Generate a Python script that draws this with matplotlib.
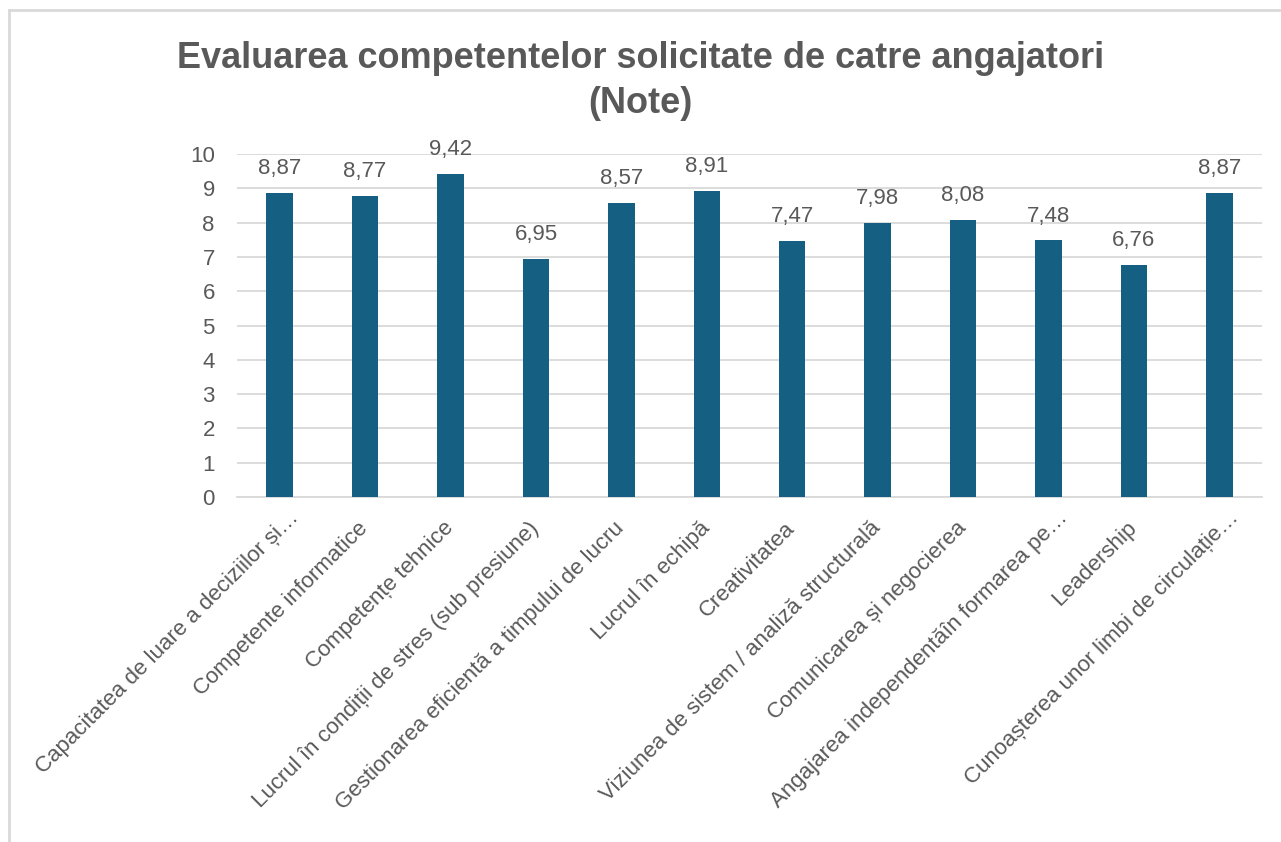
"""Bar chart: Evaluarea competentelor solicitate de catre angajatori."""

import matplotlib.pyplot as plt
from matplotlib.lines import Line2D
from matplotlib.transforms import ScaledTranslation

categories = [
    "Capacitatea de luare a deciziilor și…",
    "Competente informatice",
    "Competențe tehnice",
    "Lucrul în condiții de stres (sub presiune)",
    "Gestionarea eficientă a timpului de lucru",
    "Lucrul în echipă",
    "Creativitatea",
    "Viziunea de sistem / analiză structurală",
    "Comunicarea și negocierea",
    "Angajarea independentăîn formarea pe…",
    "Leadership",
    "Cunoașterea unor limbi de circulație…",
]
scores = [8.87, 8.77, 9.42, 6.95, 8.57, 8.91, 7.47, 7.98, 8.08, 7.48, 6.76, 8.87]
y_ticks = list(range(0, 11))

BAR_COLOR = "#156082"
TEXT_COLOR = "#595959"
GRID_COLOR = "#d9d9d9"

plt.rcParams["font.family"] = ["Liberation Sans", "DejaVu Sans"]

fig = plt.figure(figsize=(12.81, 8.42), dpi=100)
ax = fig.add_axes([237 / 1281, 1 - 497 / 842, 1025 / 1281, 343 / 842])

x = list(range(len(categories)))
bars = ax.bar(x, scores, width=0.31, color=BAR_COLOR, zorder=3)

for rect, val in zip(bars, scores):
    ax.annotate(
        f"{val:.2f}".replace(".", ","),
        (rect.get_x() + rect.get_width() / 2, val),
        xytext=(0, 10), textcoords="offset points",
        ha="center", va="bottom", fontsize=16, color=TEXT_COLOR,
    )

ax.set_xlim(-0.5, len(categories) - 0.5)
ax.set_ylim(0, 10)
ax.set_yticks(y_ticks)
ax.set_yticklabels([str(t) for t in y_ticks])
ax.yaxis.grid(True, color=GRID_COLOR, linewidth=1.3, zorder=0)
ax.set_axisbelow(True)

# category labels drawn as rotated texts under each tick
ax.set_xticks(x)
ax.set_xticklabels([])
ax.tick_params(axis="x", length=0)
base = ax.get_xaxis_transform()
for i, label in enumerate(categories):
    if label.endswith("…"):
        # truncated labels sit a bit further up-right, as in the reference
        off = ScaledTranslation(0.16, -0.18, fig.dpi_scale_trans)
    else:
        off = ScaledTranslation(0.0, -0.28, fig.dpi_scale_trans)
    ax.text(i, 0, label, transform=base + off, rotation=45, ha="right",
            va="center", rotation_mode="anchor", fontsize=16,
            color=TEXT_COLOR)

ax.tick_params(axis="y", length=0, pad=16, labelsize=16, labelcolor=TEXT_COLOR)

for side in ("top", "right", "left"):
    ax.spines[side].set_visible(False)
ax.spines["bottom"].set_color(GRID_COLOR)
ax.spines["bottom"].set_linewidth(1.3)

fig.text(0.5, 1 - 81 / 842,
         "Evaluarea competentelor solicitate de catre angajatori\n(Note)",
         ha="center", va="center", fontsize=26, fontweight="bold",
         color=TEXT_COLOR, linespacing=1.4)

# chart area border (left and top edges visible in the reference)
fig.add_artist(Line2D([9 / 1281, 9 / 1281], [0, 1 - 10 / 842],
                      transform=fig.transFigure, color=GRID_COLOR, linewidth=2))
fig.add_artist(Line2D([9 / 1281, 1], [1 - 10 / 842, 1 - 10 / 842],
                      transform=fig.transFigure, color=GRID_COLOR, linewidth=2))

fig.savefig("out.png", dpi=100)
